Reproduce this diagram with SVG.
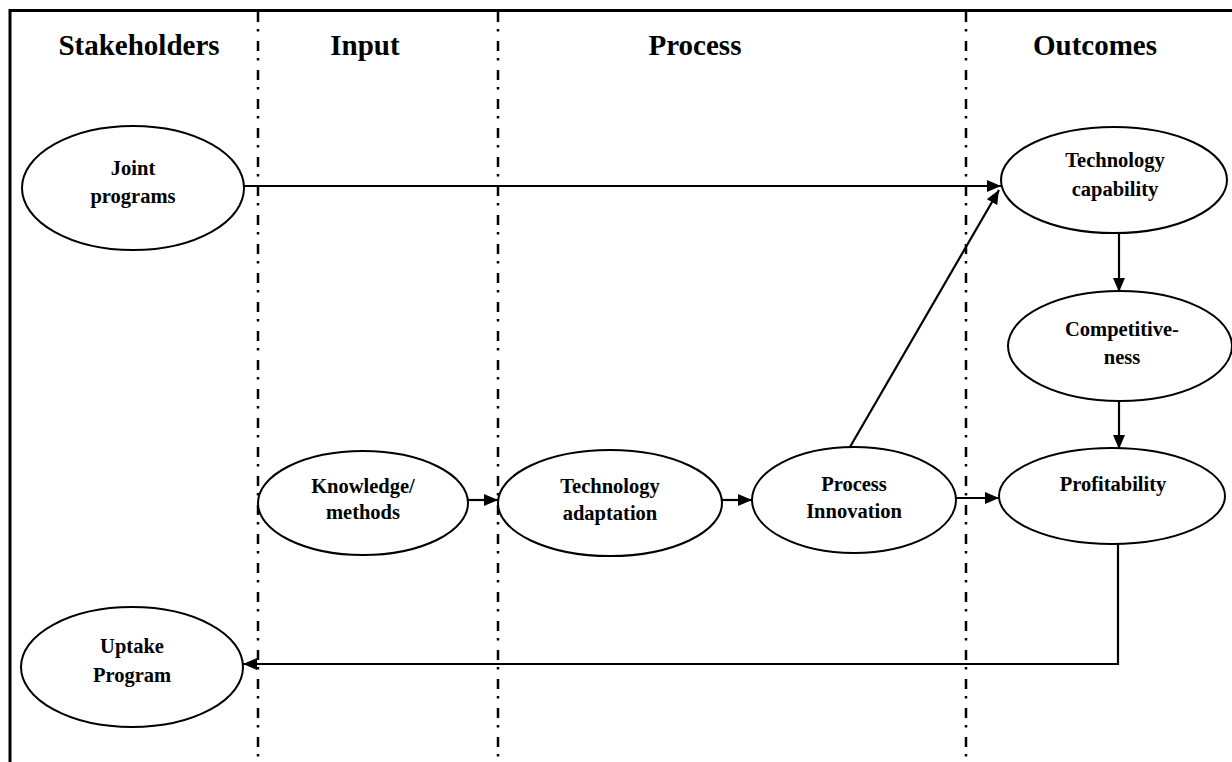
<svg xmlns="http://www.w3.org/2000/svg" width="1232" height="762" viewBox="0 0 1232 762">
<style>
.frame{stroke:#000;stroke-width:3;fill:none}
.lane{stroke:#000;stroke-width:2.5;stroke-dasharray:10 7 2.5 9.5;fill:none}
.node ellipse{fill:#fff;stroke:#000;stroke-width:2}
.hdr{font-family:"Liberation Serif","Times New Roman",serif;font-weight:bold;font-size:29px;text-anchor:middle;fill:#000}
.lbl{font-family:"Liberation Serif","Times New Roman",serif;font-weight:bold;font-size:20.5px;text-anchor:middle;fill:#000}
.edge{stroke:#000;stroke-width:2.2;fill:none}
</style>
<defs>
<marker id="ah" viewBox="0 0 14 12" refX="14" refY="6" markerWidth="14" markerHeight="12" markerUnits="userSpaceOnUse" orient="auto">
<path d="M0,0 L14,6 L0,12 z" fill="#000"/>
</marker>
</defs>
<rect width="1232" height="762" fill="#fff"/>
<g id="frame">
<path class="frame" d="M10,762 L10,10.5 L1232,10.5"/>
<line class="lane" x1="258" y1="12" x2="258" y2="762"/>
<line class="lane" x1="498" y1="12" x2="498" y2="762"/>
<line class="lane" x1="966" y1="12" x2="966" y2="762"/>
</g>
<g id="headers">
<text class="hdr" x="139" y="55">Stakeholders</text>
<text class="hdr" x="365" y="55">Input</text>
<text class="hdr" x="695" y="55">Process</text>
<text class="hdr" x="1095" y="55">Outcomes</text>
</g>
<g id="connectors">
<line class="edge" x1="244" y1="186" x2="1001" y2="186" marker-end="url(#ah)"/>
<line class="edge" x1="850" y1="447" x2="999" y2="190" marker-end="url(#ah)"/>
<line class="edge" x1="468" y1="500" x2="498" y2="500" marker-end="url(#ah)"/>
<line class="edge" x1="722" y1="500" x2="752" y2="500" marker-end="url(#ah)"/>
<line class="edge" x1="956" y1="498" x2="999" y2="498" marker-end="url(#ah)"/>
<line class="edge" x1="1119" y1="233" x2="1119" y2="292" marker-end="url(#ah)"/>
<line class="edge" x1="1119" y1="401" x2="1119" y2="449" marker-end="url(#ah)"/>
<polyline class="edge" points="1118,543 1118,664 243,664" marker-end="url(#ah)"/>
</g>
<g id="joint-programs" class="node">
<ellipse cx="133" cy="188" rx="111" ry="62"/>
<text class="lbl" x="133" y="175">Joint</text>
<text class="lbl" x="133" y="203">programs</text>
</g>
<g id="uptake-program" class="node">
<ellipse cx="132" cy="667" rx="111" ry="60"/>
<text class="lbl" x="132" y="653">Uptake</text>
<text class="lbl" x="132" y="682">Program</text>
</g>
<g id="knowledge-methods" class="node">
<ellipse cx="363" cy="503" rx="105" ry="52"/>
<text class="lbl" x="363" y="493">Knowledge/</text>
<text class="lbl" x="363" y="519">methods</text>
</g>
<g id="technology-adaptation" class="node">
<ellipse cx="610" cy="503" rx="112" ry="53"/>
<text class="lbl" x="610" y="493">Technology</text>
<text class="lbl" x="610" y="520">adaptation</text>
</g>
<g id="process-innovation" class="node">
<ellipse cx="854" cy="500" rx="102" ry="53"/>
<text class="lbl" x="854" y="491">Process</text>
<text class="lbl" x="854" y="518">Innovation</text>
</g>
<g id="technology-capability" class="node">
<ellipse cx="1114" cy="180" rx="113" ry="53"/>
<text class="lbl" x="1115" y="167">Technology</text>
<text class="lbl" x="1115" y="196">capability</text>
</g>
<g id="competitiveness" class="node">
<ellipse cx="1120" cy="346" rx="112" ry="55"/>
<text class="lbl" x="1122" y="336">Competitive-</text>
<text class="lbl" x="1122" y="364">ness</text>
</g>
<g id="profitability" class="node">
<ellipse cx="1112" cy="496" rx="113" ry="48"/>
<text class="lbl" x="1113" y="491">Profitability</text>
</g>
</svg>
